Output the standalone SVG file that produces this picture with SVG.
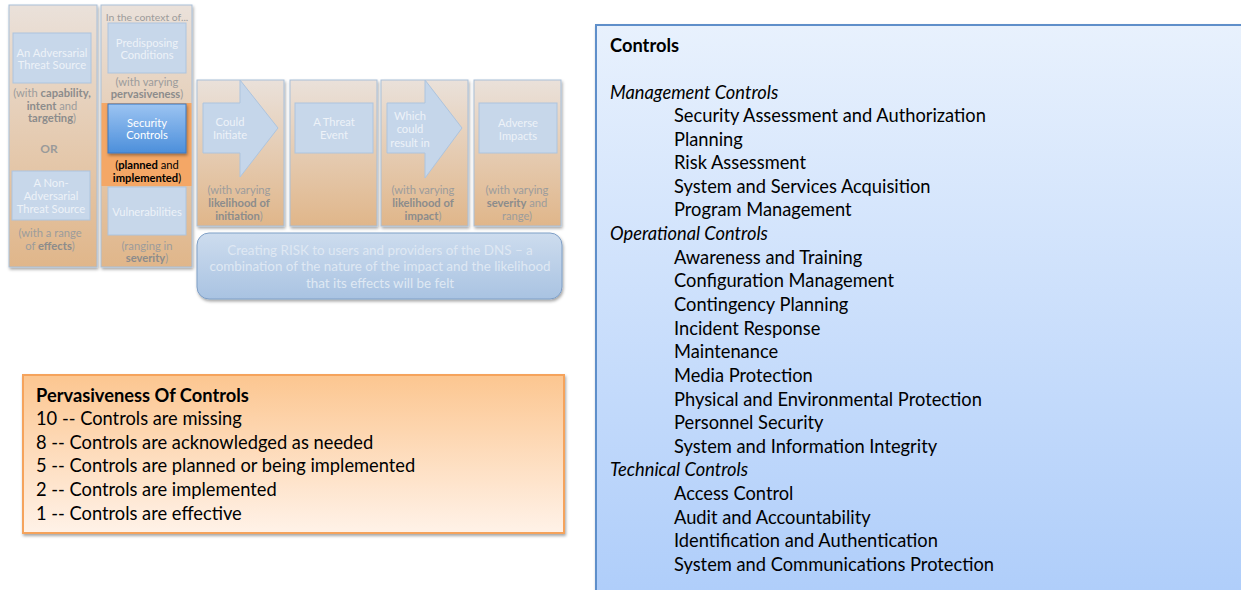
<svg xmlns="http://www.w3.org/2000/svg" width="1241" height="590" viewBox="0 0 1241 590">
<defs>
  <linearGradient id="colGrad" x1="0" y1="0" x2="0" y2="1">
    <stop offset="0" stop-color="#eae1da"/>
    <stop offset="1" stop-color="#e0b68a"/>
  </linearGradient>
  <linearGradient id="secGrad" x1="0" y1="0" x2="0" y2="1">
    <stop offset="0" stop-color="#9cc4f2"/>
    <stop offset="1" stop-color="#4c8fdb"/>
  </linearGradient>
  <linearGradient id="riskGrad" x1="0" y1="0" x2="0" y2="1">
    <stop offset="0" stop-color="#cddcee"/>
    <stop offset="1" stop-color="#a9c3e2"/>
  </linearGradient>
  <linearGradient id="pervGrad" x1="0" y1="0" x2="0" y2="1">
    <stop offset="0" stop-color="#fcc690"/>
    <stop offset="1" stop-color="#fff2e8"/>
  </linearGradient>
  <linearGradient id="ctrlGrad" x1="0" y1="0" x2="0" y2="1">
    <stop offset="0" stop-color="#e8f1fd"/>
    <stop offset="1" stop-color="#aecdfa"/>
  </linearGradient>
  <filter id="shadow" x="-10%" y="-10%" width="125%" height="125%">
    <feDropShadow dx="1" dy="2" stdDeviation="1.5" flood-color="#000" flood-opacity="0.35"/>
  </filter>
</defs>
<style>
  .col { fill: url(#colGrad); stroke: #a9bfd8; stroke-width: 1; filter: url(#shadow); }
  .inner { fill: #c7d7ea; stroke: #adc4de; stroke-width: 1; }
  .arrow { fill: #c5d6ea; stroke: #adc4de; stroke-width: 1; }
  .wt { font-family: Lato, "Open Sans", sans-serif; font-size: 11.2px; fill: #edf2f8; text-anchor: middle; }
  .gt { font-family: Lato, "Open Sans", sans-serif; font-size: 11.2px; fill: #9c9c9c; text-anchor: middle; }
  .gt .b { font-weight: bold; fill: #8c8c8c; }
  .big { font-family: Lato, "Open Sans", sans-serif; font-size: 18.3px; fill: #000; }
  .bold { font-weight: bold; }
  .it { font-style: italic; }
  .risk { font-size: 13.4px; fill: #dfe8f3; }
</style>

<g id="col-threat-source">
  <rect class="col" x="9" y="5" width="88" height="262"/>
  <rect class="inner" x="13" y="33" width="78" height="50"/>
  <text class="wt" x="52" y="57">An Adversarial</text>
  <text class="wt" x="52" y="69">Threat Source</text>
  <text class="gt" x="52" y="97">(with <tspan class="b">capability,</tspan></text>
  <text class="gt" x="52" y="110"><tspan class="b">intent</tspan> and</text>
  <text class="gt" x="52" y="122"><tspan class="b">targeting</tspan>)</text>
  <text class="gt" x="49" y="153" style="font-size:12px;font-weight:bold;fill:#9a9a9a">OR</text>
  <rect class="inner" x="12" y="171" width="78" height="49"/>
  <text class="wt" x="51" y="187">A Non-</text>
  <text class="wt" x="51" y="200">Adversarial</text>
  <text class="wt" x="51" y="213">Threat Source</text>
  <text class="gt" x="50" y="237">(with a range</text>
  <text class="gt" x="50" y="250">of <tspan class="b">effects</tspan>)</text>
</g>

<g id="col-context">
  <rect class="col" x="101" y="5" width="91" height="262"/>
  <rect x="101.5" y="103" width="90" height="83" fill="#f4a766"/>
  <text class="gt" x="147" y="21" style="font-size:10.4px">In the context of...</text>
  <rect class="inner" x="108" y="23" width="78" height="50"/>
  <text class="wt" x="147" y="47">Predisposing</text>
  <text class="wt" x="147" y="59">Conditions</text>
  <text class="gt" x="147" y="86">(with varying</text>
  <text class="gt" x="147" y="98"><tspan class="b">pervasiveness</tspan>)</text>
  <rect x="108" y="104" width="78" height="49" fill="url(#secGrad)" stroke="#3d78c0" stroke-width="1" filter="url(#shadow)"/>
  <text class="wt" x="147" y="127" style="fill:#fff">Security</text>
  <text class="wt" x="147" y="139" style="fill:#fff">Controls</text>
  <text class="gt" x="147" y="169" style="fill:#000">(<tspan font-weight="bold">planned</tspan> and</text>
  <text class="gt" x="147" y="182" style="fill:#000"><tspan font-weight="bold">implemented</tspan>)</text>
  <rect class="inner" x="108" y="187" width="78" height="48"/>
  <text class="wt" x="147" y="216">Vulnerabilities</text>
  <text class="gt" x="147" y="250">(ranging in</text>
  <text class="gt" x="147" y="262"><tspan class="b">severity</tspan>)</text>
</g>

<g id="col-could-initiate">
  <rect class="col" x="197" y="80" width="87" height="146"/>
  <polygon class="arrow" points="203,103 240,103 240,80 278,128 240,177 240,153 203,153"/>
  <text class="wt" x="230" y="126">Could</text>
  <text class="wt" x="230" y="139">Initiate</text>
  <text class="gt" x="239" y="194">(with varying</text>
  <text class="gt" x="239" y="207"><tspan class="b">likelihood of</tspan></text>
  <text class="gt" x="239" y="220"><tspan class="b">initiation</tspan>)</text>
</g>

<g id="col-threat-event">
  <rect class="col" x="290" y="80" width="87" height="146"/>
  <rect class="inner" x="295" y="103" width="78" height="50"/>
  <text class="wt" x="334" y="126">A Threat</text>
  <text class="wt" x="334" y="139">Event</text>
</g>

<g id="col-result-in">
  <rect class="col" x="381" y="80" width="87" height="146"/>
  <polygon class="arrow" points="387,103 425,103 425,80 462,128 425,178 425,153 387,153"/>
  <text class="wt" x="410" y="120">Which</text>
  <text class="wt" x="410" y="133">could</text>
  <text class="wt" x="410" y="147">result in</text>
  <text class="gt" x="423" y="194">(with varying</text>
  <text class="gt" x="423" y="207"><tspan class="b">likelihood of</tspan></text>
  <text class="gt" x="423" y="220"><tspan class="b">impact</tspan>)</text>
</g>

<g id="col-adverse-impacts">
  <rect class="col" x="474" y="80" width="87" height="146"/>
  <rect class="inner" x="479" y="103" width="78" height="50"/>
  <text class="wt" x="518" y="127">Adverse</text>
  <text class="wt" x="518" y="140">Impacts</text>
  <text class="gt" x="517" y="194">(with varying</text>
  <text class="gt" x="517" y="207"><tspan class="b">severity</tspan> and</text>
  <text class="gt" x="517" y="220">range)</text>
</g>

<g id="risk">
  <rect x="197" y="233" width="365" height="66" rx="12" ry="12" fill="url(#riskGrad)" stroke="#7f9fc6" stroke-width="1" filter="url(#shadow)"/>
  <text class="wt risk" x="380" y="255">Creating RISK to users and providers of the DNS – a</text>
  <text class="wt risk" x="380" y="271">combination of the nature of the impact and the likelihood</text>
  <text class="wt risk" x="380" y="288">that its effects will be felt</text>
</g>

<g id="pervasiveness">
  <rect x="23" y="375" width="541" height="158" fill="url(#pervGrad)" stroke="#f5a35c" stroke-width="2" filter="url(#shadow)"/>
  <text class="big bold" x="36" y="402">Pervasiveness Of Controls</text>
  <text class="big" x="36" y="425">10 -- Controls are missing</text>
  <text class="big" x="36" y="449">8 -- Controls are acknowledged as needed</text>
  <text class="big" x="36" y="472">5 -- Controls are planned or being implemented</text>
  <text class="big" x="36" y="496">2 -- Controls are implemented</text>
  <text class="big" x="36" y="520">1 -- Controls are effective</text>
</g>

<g id="controls">
  <rect x="596" y="25" width="660" height="580" fill="url(#ctrlGrad)" stroke="#5f8fca" stroke-width="2" filter="url(#shadow)"/>
  <text class="big bold" x="610" y="52">Controls</text>
  <text class="big it" x="610" y="98.5">Management Controls</text>
  <text class="big" x="674" y="122">Security Assessment and Authorization</text>
  <text class="big" x="674" y="146">Planning</text>
  <text class="big" x="674" y="169">Risk Assessment</text>
  <text class="big" x="674" y="193">System and Services Acquisition</text>
  <text class="big" x="674" y="216">Program Management</text>
  <text class="big it" x="610" y="240">Operational Controls</text>
  <text class="big" x="674" y="264">Awareness and Training</text>
  <text class="big" x="674" y="287">Configuration Management</text>
  <text class="big" x="674" y="311">Contingency Planning</text>
  <text class="big" x="674" y="335">Incident Response</text>
  <text class="big" x="674" y="358">Maintenance</text>
  <text class="big" x="674" y="382">Media Protection</text>
  <text class="big" x="674" y="406">Physical and Environmental Protection</text>
  <text class="big" x="674" y="429">Personnel Security</text>
  <text class="big" x="674" y="453">System and Information Integrity</text>
  <text class="big it" x="610" y="476">Technical Controls</text>
  <text class="big" x="674" y="500">Access Control</text>
  <text class="big" x="674" y="524">Audit and Accountability</text>
  <text class="big" x="674" y="547">Identification and Authentication</text>
  <text class="big" x="674" y="571">System and Communications Protection</text>
</g>

<g id="connectors"></g>
</svg>
